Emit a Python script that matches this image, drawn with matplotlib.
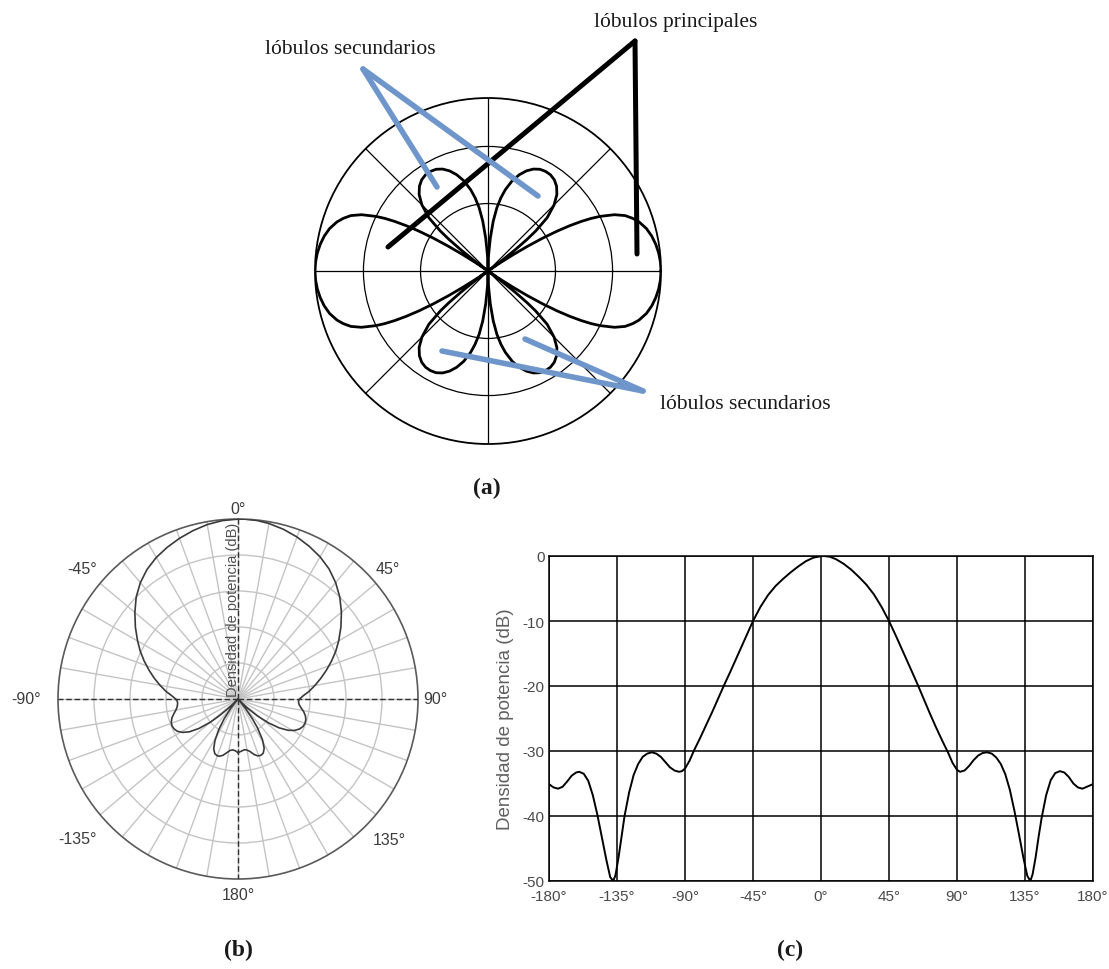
import numpy as np
import matplotlib
matplotlib.use("Agg")
import matplotlib.pyplot as plt

plt.rcParams["axes.unicode_minus"] = False

# ---------------------------------------------------------------------------
# (a) generic lobe pattern, one quadrant (deg, normalised radius)
# ---------------------------------------------------------------------------
A_ANG = [0, 3, 6, 9, 12, 15, 18, 20, 22, 24, 26, 27, 28, 29, 30, 31, 32, 33,
         34, 35, 36, 37, 38, 39, 40, 42, 45, 48, 51, 54, 57, 60, 63, 66, 69,
         72, 75, 78, 80, 82, 84, 86, 88, 89, 90]
A_R = [1.0, 0.998, 0.992, 0.982, 0.968, 0.948, 0.918, 0.89, 0.855, 0.80,
       0.72, 0.67, 0.61, 0.54, 0.46, 0.37, 0.27, 0.17, 0.08, 0.02, 0.0, 0.10,
       0.20, 0.29, 0.36, 0.46, 0.54, 0.595, 0.63, 0.652, 0.663, 0.665, 0.66,
       0.645, 0.62, 0.585, 0.54, 0.48, 0.43, 0.37, 0.29, 0.19, 0.09, 0.04,
       0.0]
A_RINGS = [0.39, 0.72]

# ---------------------------------------------------------------------------
# (b)/(c) measured power density pattern (deg, dB)
# ---------------------------------------------------------------------------
PAT_DEG = [-180, -177, -174, -171, -168, -165, -162, -160, -157, -154, -151,
           -148, -145, -142, -139.5, -137.5, -136, -134, -132, -130, -127,
           -124, -121, -118, -115, -112, -109, -106, -103, -100, -97, -94,
           -92, -90, -87, -84, -80, -76, -72, -68, -64, -60, -55, -50, -45,
           -40, -35, -30, -25, -20, -15, -10, -5, 0, 2, 6, 10, 15, 20, 25,
           30, 35, 40, 45, 50, 55, 60, 64, 68, 72, 76, 80, 84, 87, 90, 92,
           95, 98, 101, 104, 107, 110, 113, 116, 119, 122, 125, 128, 131,
           134, 136.5, 138.5, 140, 142, 144, 146, 149, 152, 155, 158, 161,
           164, 167, 170, 173, 176, 180]
PAT_DB = [-35.1, -35.6, -35.8, -35.5, -34.7, -33.8, -33.3, -33.2, -33.5,
          -34.6, -36.8, -39.8, -43.3, -46.8, -49.4, -50.0, -49.1, -46.4,
          -43.2, -40.0, -36.4, -33.7, -32.0, -30.9, -30.4, -30.2, -30.4,
          -30.9, -31.7, -32.5, -33.0, -33.2, -33.1, -32.7, -31.5, -29.9,
          -28.0, -26.0, -24.0, -21.9, -19.8, -17.8, -15.2, -12.6, -10.0,
          -7.8, -6.0, -4.6, -3.5, -2.5, -1.6, -0.8, -0.25, -0.03, 0.0,
          -0.12, -0.5, -1.2, -2.1, -3.2, -4.4, -5.9, -7.8, -10.0, -12.5,
          -15.1, -17.7, -19.8, -22.0, -24.2, -26.3, -28.3, -30.2, -31.8,
          -32.9, -33.2, -33.0, -32.3, -31.4, -30.7, -30.3, -30.2, -30.4,
          -31.0, -32.0, -33.6, -36.0, -39.2, -42.8, -46.5, -49.2, -50.0,
          -49.0, -46.4, -43.2, -40.3, -36.8, -34.5, -33.4, -33.1, -33.3,
          -34.0, -35.0, -35.6, -35.8, -35.5, -35.1]

X_TICKS = [-180, -135, -90, -45, 0, 45, 90, 135, 180]
Y_TICKS = [0, -10, -20, -30, -40, -50]
B_LABEL_ANG = [0, 45, 90, 135, 180, -135, -90, -45]

# where each angle label of (b) sits: (direction in deg, dB beyond the rim)
B_LABEL_SPOT = {0: (0, 2.8), 45: (49, 5.3), 90: (90, 4.9), 135: (133, 7.4),
                180: (180, 4.4), -135: (-131, 9.0), -90: (-90, 8.8),
                -45: (-50, 6.5)}

SERIF = ["Liberation Serif", "DejaVu Serif"]
SANS = ["Liberation Sans", "DejaVu Sans"]
BLUE = "#6f96cb"
W, H = 1109, 970


def full_pattern(ang, r):
    """Mirror one quadrant into the full 0..360 pattern."""
    q = np.asarray(ang, float)
    v = np.asarray(r, float)
    th = np.concatenate([q, 180 - q[::-1][1:], 180 + q[1:], 360 - q[::-1][1:]])
    rr = np.concatenate([v, v[::-1][1:], v[1:], v[::-1][1:]])
    return np.deg2rad(th), rr


def px_axes(cx, cy, half_w, half_h=None):
    """Figure-fraction rect for a box centred at pixel (cx, cy)."""
    half_h = half_w if half_h is None else half_h
    return [(cx - half_w) / W, (H - cy - half_h) / H, 2 * half_w / W, 2 * half_h / H]


fig = plt.figure(figsize=(W / 100, H / 100), dpi=100)

# ---- (a) ------------------------------------------------------------------
axa = fig.add_axes(px_axes(488, 272, 173), projection="polar")
th, rr = full_pattern(A_ANG, A_R)
axa.plot(th, rr, color="black", lw=2.0, solid_joinstyle="round")
axa.set_ylim(0, 1)
axa.set_thetagrids(range(0, 360, 45), labels=[])
axa.set_rgrids(A_RINGS, labels=[])
axa.grid(True, color="black", lw=0.9)
axa.spines["polar"].set_color("black")
axa.spines["polar"].set_linewidth(1.3)

# ---- (b) ------------------------------------------------------------------
axb = fig.add_axes(px_axes(238, 700, 180), projection="polar")
axb.set_theta_zero_location("N")
axb.set_theta_direction(-1)
axb.plot(np.deg2rad(PAT_DEG), PAT_DB, color="#3a3a3a", lw=1.2, zorder=4)
axb.set_ylim(-50, 0)
axb.set_thetagrids(range(0, 360, 10), labels=[])
axb.set_rgrids([-40, -30, -20, -10], labels=[])
axb.grid(True, color="#c4c4c4", lw=1.0)
axb.spines["polar"].set_color("#5a5a5a")
axb.spines["polar"].set_linewidth(1.2)
for a in (0, 90, 180, 270):
    axb.axvline(np.deg2rad(a), color="#303030", lw=1.0, ls=(0, (4, 2)), zorder=3)
for a in B_LABEL_ANG:
    d, extra = B_LABEL_SPOT[a]
    axb.text(np.deg2rad(d), extra, f"{a}°", ha="center", va="center",
             fontsize=11.5, color="#3c3c3c", family=SANS, clip_on=False)
axb.text(0.486, 0.75, "Densidad de potencia (dB)", transform=axb.transAxes,
         rotation=90, ha="center", va="center", fontsize=10.5, color="#505050",
         family=SANS, zorder=5)

# ---- (c) ------------------------------------------------------------------
axc = fig.add_axes([549 / W, (H - 882) / H, 544 / W, 325 / H])
axc.plot(PAT_DEG, PAT_DB, color="black", lw=1.4)
axc.set_xlim(-180, 180)
axc.set_ylim(-50, 0)
axc.set_xticks(X_TICKS)
axc.set_xticklabels([f"{t}°" for t in X_TICKS])
axc.set_yticks(Y_TICKS)
axc.grid(True, color="black", lw=1.1)
axc.tick_params(length=0, labelsize=11, labelcolor="#4a4a4a")
axc.tick_params(axis="x", pad=6)
axc.tick_params(axis="y", pad=3)
for lab in axc.get_xticklabels() + axc.get_yticklabels():
    lab.set_family(SANS)
for s in axc.spines.values():
    s.set_color("black")
    s.set_linewidth(1.1)
axc.set_ylabel("Densidad de potencia (dB)", fontsize=13.5, color="#606060",
               family=SANS, labelpad=6)

# ---- callouts and panel letters (pixel overlay) -----------------------------
ov = fig.add_axes([0, 0, 1, 1], zorder=10)
ov.set_xlim(0, W)
ov.set_ylim(H, 0)
ov.axis("off")
ov.patch.set_alpha(0)

for end in [(388, 248), (637, 255)]:
    ov.plot([635, end[0]], [42, end[1]], color="black", lw=3.6,
            solid_capstyle="round")
for end in [(437, 188), (538, 197)]:
    ov.plot([363, end[0]], [70, end[1]], color=BLUE, lw=4.0,
            solid_capstyle="round")
for end in [(442, 352), (525, 340)]:
    ov.plot([643, end[0]], [392, end[1]], color=BLUE, lw=4.0,
            solid_capstyle="round")

ov.text(350, 50, "lóbulos secundarios", ha="center", va="center",
        fontsize=15.5, family=SERIF, color="#1a1a1a")
ov.text(676, 22, "lóbulos principales", ha="center", va="center",
        fontsize=15.5, family=SERIF, color="#1a1a1a")
ov.text(745, 405, "lóbulos secundarios", ha="center", va="center",
        fontsize=15.5, family=SERIF, color="#1a1a1a")

for txt, x, y in [("(a)", 487, 488), ("(b)", 238, 950), ("(c)", 790, 950)]:
    ov.text(x, y, txt, ha="center", va="center", fontsize=17,
            fontweight="bold", family=SERIF, color="#1a1a1a")

fig.savefig("out.png", dpi=100, facecolor="white")
